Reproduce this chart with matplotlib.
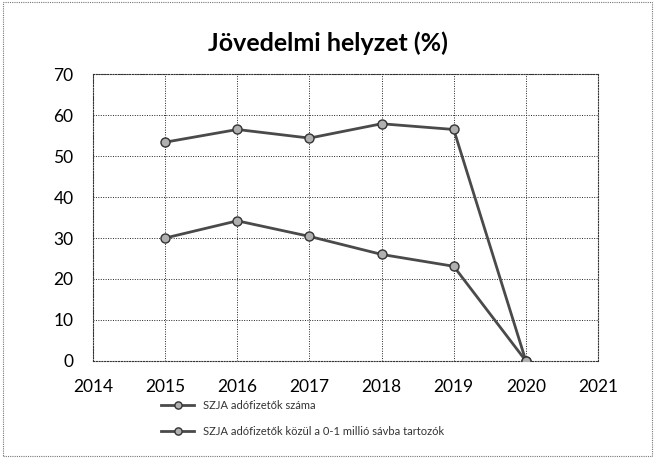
import matplotlib
matplotlib.use("Agg")
import matplotlib.pyplot as plt
from matplotlib.patches import Rectangle

plt.rcParams["font.family"] = ["Lato", "DejaVu Sans"]

years = [2015, 2016, 2017, 2018, 2019, 2020]
taxpayers = [53.4, 56.5, 54.4, 57.9, 56.5, 0]
band_0_1m = [30.0, 34.2, 30.4, 26.0, 23.1, 0]
labels = ["SZJA adófizetők száma",
          "SZJA adófizetők közül a 0-1 millió sávba tartozók"]

fig = plt.figure(figsize=(6.55, 4.58), dpi=100)
ax = fig.add_axes([0.142, 0.212, 0.771, 0.626])

# dotted border around the whole figure
fig.patches.append(Rectangle((0.004, 0.004), 0.992, 0.992, transform=fig.transFigure,
                             fill=False, linestyle=(0, (1, 1)), linewidth=0.8,
                             edgecolor="#777"))

for vals, lab in zip([taxpayers, band_0_1m], labels):
    ax.plot(years, vals, color="#4a4a4a", linewidth=2.0, marker="o", markersize=6.5,
            markerfacecolor="#b0b0b0", markeredgecolor="#333", markeredgewidth=1,
            label=lab, zorder=5)

ax.set_xlim(2014, 2021)
ax.set_ylim(0, 70)
ax.set_xticks(range(2014, 2022))
ax.set_yticks(range(0, 71, 10))
ax.tick_params(length=0, labelsize=12.5, pad=13)
ax.tick_params(axis="y", pad=14)
ax.grid(True, color="#222", linestyle=(0, (1, 1.5)), linewidth=0.7)
for s in ax.spines.values():
    s.set_linestyle((0, (1, 1.5)))
    s.set_color("#333")
    s.set_linewidth(0.8)

fig.text(0.5, 0.905, "Jövedelmi helyzet (%)", ha="center", va="center",
         fontsize=18, fontweight="bold")

ax.legend(loc="upper left", bbox_to_anchor=(0.115, -0.1), frameon=False,
          fontsize=8, handlelength=3, labelspacing=1.35, labelcolor="#333",
          markerscale=0.8)

fig.savefig("out.png", dpi=100)
